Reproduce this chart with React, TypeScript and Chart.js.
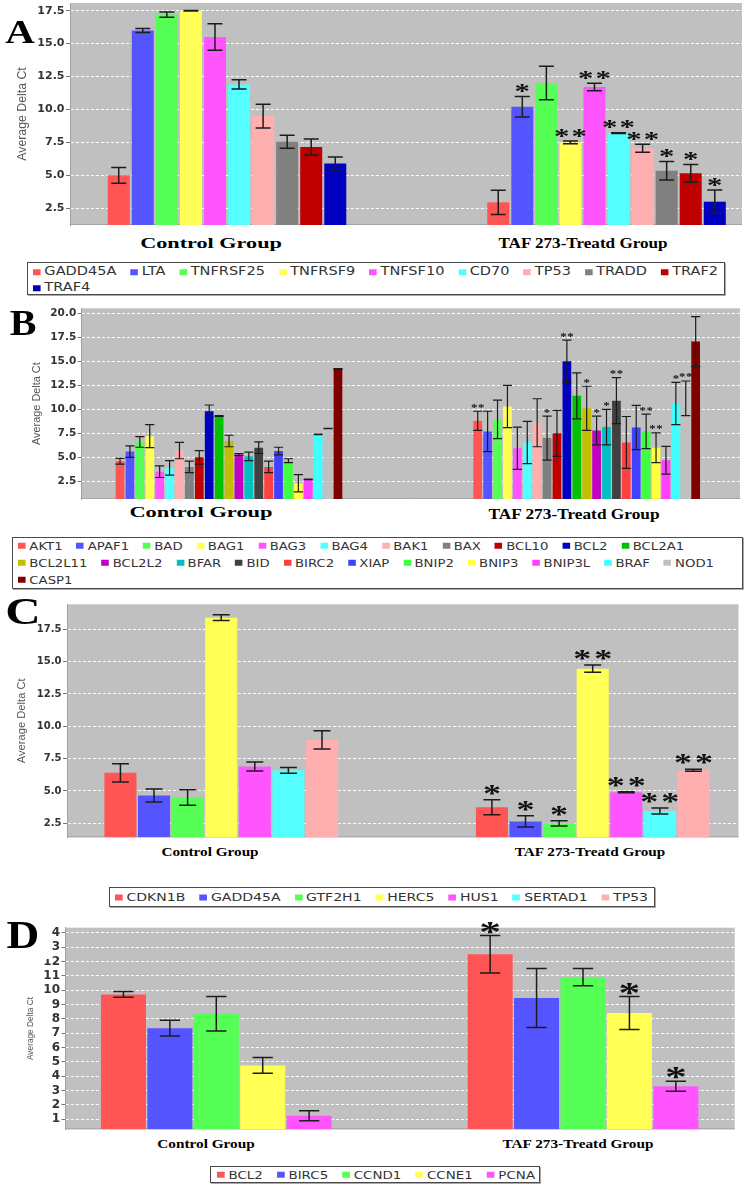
import React, { useEffect, useRef } from 'react';
import { Chart, registerables } from 'chart.js';

Chart.register(...registerables);

// ---------- shared ----------
const groups = ['Control Group', 'TAF 273-Treatd Group'];
const panelLetters = ['A', 'B', 'C', 'D'];
const palette = [
  '#ff5555', '#5555ff', '#55ff55', '#ffff55', '#ff55ff', '#55ffff', '#ffafaf', '#808080',
  '#c00000', '#0000c0', '#00c000', '#c0c000', '#c000c0', '#00c0c0', '#404040', '#ff4040',
  '#4040ff', '#40ff40', '#ffff40', '#ff40ff', '#40ffff', '#c0c0c0', '#800000',
];
const axisTitle = 'Average Delta Ct';

// ---------- panel A ----------
const aGenes = ['GADD45A', 'LTA', 'TNFRSF25', 'TNFRSF9', 'TNFSF10', 'CD70', 'TP53', 'TRADD', 'TRAF2', 'TRAF4'];
const aControl = [5.0, 16.0, 17.2, 17.5, 15.5, 11.9, 9.5, 7.55, 7.15, 5.9];
const aControlErr = [0.6, 0.15, 0.2, 0.02, 1.0, 0.35, 0.9, 0.5, 0.6, 0.5];
const aTreated = [2.95, 10.2, 12.0, 7.5, 11.7, 8.2, 7.05, 5.35, 5.15, 3.0];
const aTreatedErr = [0.92, 0.78, 1.27, 0.1, 0.28, 0.03, 0.3, 0.7, 0.67, 0.88];
const aSig = [0, 1, 0, 2, 2, 2, 2, 1, 1, 1];
const aTicks = [2.5, 5, 7.5, 10, 12.5, 15, 17.5];

// ---------- panel B ----------
const bGenes = ['AKT1', 'APAF1', 'BAD', 'BAG1', 'BAG3', 'BAG4', 'BAK1', 'BAX', 'BCL10', 'BCL2', 'BCL2A1',
  'BCL2L11', 'BCL2L2', 'BFAR', 'BID', 'BIRC2', 'XIAP', 'BNIP2', 'BNIP3', 'BNIP3L', 'BRAF', 'NOD1', 'CASP1'];
const bControl = [4.6, 5.6, 6.6, 7.2, 3.5, 3.9, 5.7, 4.0, 5.0, 9.8, 9.3, 6.7, 5.3, 5.1, 6.0, 4.0, 5.65, 4.65, 2.3, 2.7, 7.4, 8.0, 14.2];
const bControlErr = [0.3, 0.6, 0.55, 1.2, 0.6, 0.75, 0.85, 0.6, 0.7, 0.65, 0.05, 0.6, 0.1, 0.45, 0.6, 0.6, 0.4, 0.2, 0.9, 0.03, 0.03, 0.02, 0.05];
const bTreated = [8.8, 7.7, 8.95, 10.3, 5.95, 6.55, 8.6, 7.0, 7.5, 15.0, 11.4, 10.1, 7.8, 8.15, 10.9, 6.55, 8.1, 7.7, 6.0, 4.7, 10.6, 11.15, 17.05];
const bTreatedErr = [1.0, 2.1, 2.0, 2.2, 2.2, 2.2, 2.5, 2.3, 2.4, 2.2, 2.4, 2.3, 1.5, 1.85, 2.4, 2.7, 2.3, 1.8, 1.55, 1.45, 2.2, 1.8, 2.6];
const bSig = [2, 0, 0, 0, 0, 0, 0, 1, 0, 2, 0, 1, 1, 1, 2, 0, 0, 2, 2, 0, 1, 2, 0];
const bTicks = [2.5, 5, 7.5, 10, 12.5, 15, 17.5, 20];

// ---------- panel C ----------
const cGenes = ['CDKN1B', 'GADD45A', 'GTF2H1', 'HERC5', 'HUS1', 'SERTAD1', 'TP53'];
const cControl = [6.4, 4.65, 4.5, 18.4, 6.9, 6.6, 8.95];
const cControlErr = [0.7, 0.5, 0.6, 0.22, 0.35, 0.22, 0.7];
const cTreated = [3.75, 2.65, 2.5, 14.45, 4.9, 3.45, 6.6];
const cTreatedErr = [0.58, 0.43, 0.2, 0.28, 0.04, 0.23, 0.08];
const cSig = [1, 1, 1, 2, 2, 2, 2];
const cTicks = [2.5, 5, 7.5, 10, 12.5, 15, 17.5];

// ---------- panel D ----------
const dGenes = ['BCL2', 'BIRC5', 'CCND1', 'CCNE1', 'PCNA'];
const dControl = [9.7, 7.35, 8.35, 4.75, 1.25];
const dControlErr = [0.2, 0.55, 1.2, 0.55, 0.35];
const dTreated = [12.5, 9.45, 10.9, 8.4, 3.3];
const dTreatedErr = [1.3, 2.05, 0.6, 1.15, 0.35];
const dSig = [1, 0, 0, 1, 1];
const dTicks = [1, 2, 3, 4, 5, 6, 7, 8, 9, 10, 11, 12, 13, 14];

// ---------- layout ----------
const panels: any[] = [
  {
    genes: aGenes, values: [aControl, aTreated], errs: [aControlErr, aTreatedErr], sig: aSig, ticks: aTicks, decimals: 1,
    top: 0, height: 232, plot: { l: 70, t: 3, r: 742, b: 225 },
    yMin: 1.23, yMax: 18.08, xMin: -0.4137, xMax: 1.357, catPct: 0.634, barPct: 0.915,
    tickSize: 11, titleSize: 12.3, titlePad: 15, capFrac: 0.68, errWidth: 1.5,
    star: { size: 22, sx: 1.4, spacing: 17.5, offset: 8 },
    labels: [{ cx: 211, cy: 244, w: 142, size: 14 }, { cx: 583, cy: 244, w: 170, size: 14 }],
    legend: { box: { l: 27, t: 262, r: 725, b: 295 }, startX: 33, endX: 718, rowY: [272, 288], rows: [9, 1], size: 11.5 },
    letter: { cx: 20, cy: 32, w: 30, size: 34 },
  },
  {
    genes: bGenes, values: [bControl, bTreated], errs: [bControlErr, bTreatedErr], sig: bSig, ticks: bTicks, decimals: 1,
    top: 300, height: 205, plot: { l: 81.7, t: 308.3, r: 740, b: 499 },
    yMin: 0.66, yMax: 20.52, xMin: -0.4118, xMax: 1.4286, catPct: 0.637, barPct: 0.88,
    tickSize: 10.5, titleSize: 10.9, titlePad: 30.5, capFrac: 1.05, errWidth: 1.2,
    star: { size: 10, sx: 1.28, spacing: 7, offset: 5.5 },
    labels: [{ cx: 200.8, cy: 513, w: 143.5, size: 14 }, { cx: 573.6, cy: 515, w: 172, size: 14 }],
    legend: { box: { l: 12, t: 537, r: 743, b: 589 }, startX: 18, endX: 684, rowY: [546, 563, 580], rows: [11, 11, 1], size: 10.5 },
    letter: { cx: 22.7, cy: 323.3, w: 26.3, size: 35 },
  },
  {
    genes: cGenes, values: [cControl, cTreated], errs: [cControlErr, cTreatedErr], sig: cSig, ticks: cTicks, decimals: 1,
    top: 595, height: 250, plot: { l: 67, t: 604.3, r: 738.5, b: 837.3 },
    yMin: 1.42, yMax: 19.43, xMin: -0.4151, xMax: 1.3925, catPct: 0.633, barPct: 0.955,
    tickSize: 10, titleSize: 11.2, titlePad: 14.8, capFrac: 0.53, errWidth: 1.5,
    star: { size: 24.5, sx: 1.47, spacing: 21, offset: 10 },
    labels: [{ cx: 210, cy: 852, w: 97.6, size: 12 }, { cx: 589.6, cy: 851.5, w: 151.5, size: 12 }],
    legend: { box: { l: 109, t: 887, r: 655, b: 907 }, startX: 115, endX: 648, rowY: [897], rows: [7], size: 11 },
    letter: { cx: 22.7, cy: 610.8, w: 31, size: 38 },
  },
  {
    genes: dGenes, values: [dControl, dTreated], errs: [dControlErr, dTreatedErr], sig: dSig, ticks: dTicks, decimals: 0,
    top: 918, height: 218, plot: { l: 65.5, t: 927.7, r: 734.7, b: 1129.3 },
    yMin: 0.3, yMax: 14.35, xMin: -0.4112, xMax: 1.4137, catPct: 0.633, barPct: 0.97,
    tickSize: 12, titleSize: 8.3, titlePad: 26, capFrac: 0.45, errWidth: 1.5,
    star: { size: 29, sx: 1.5, spacing: 20, offset: 8 },
    labels: [{ cx: 206.3, cy: 1145, w: 97, size: 11.5 }, { cx: 578.4, cy: 1145, w: 151, size: 11.5 }],
    legend: { box: { l: 210, t: 1166, r: 540, b: 1183 }, startX: 217, endX: 535, rowY: [1174.5], rows: [5], size: 10.5 },
    letter: { cx: 22.7, cy: 934, w: 31, size: 41 },
  },
];

// ---------- text helpers ----------
const mctx: any = document.createElement('canvas').getContext('2d');
function measure(text: string, font: string, ink: boolean) {
  mctx.font = font;
  const m = mctx.measureText(text);
  if (ink) {
    const w = m.actualBoundingBoxLeft + m.actualBoundingBoxRight;
    if (w > 0) return w;
  }
  return m.width;
}

function StretchText({ text, cx, cy, width, size, family, weight, color }: any) {
  const font = `${weight} ${size}px ${family}`;
  const s = width / measure(text, font, true);
  return (
    <div
      style={{
        position: 'absolute', left: cx, top: cy, font, lineHeight: 1, whiteSpace: 'nowrap', color,
        transform: `translate(-50%, -50%) scaleX(${s})`,
      }}
    >
      {text}
    </div>
  );
}

function Legend({ names, lg }: any) {
  const font = `${lg.size}px "DejaVu Sans"`;
  const SQ = 6, SQG = 3, GAP = 11;
  const first = names.slice(0, lg.rows[0]);
  const natural = first.reduce((a: number, n: string) => a + measure(n, font, false), 0)
    + first.length * (SQ + SQG) + (first.length - 1) * GAP;
  const k = (lg.endX - lg.startX) / natural;
  let idx = 0;
  const rows = lg.rows.map((count: number, r: number) => {
    const base = idx;
    const items = names.slice(idx, idx + count);
    idx += count;
    return (
      <div
        key={r}
        style={{
          position: 'absolute', left: lg.startX, top: lg.rowY[r], font, lineHeight: 1, color: '#333',
          display: 'flex', alignItems: 'center', whiteSpace: 'nowrap',
          transform: `translateY(-50%) scaleX(${k})`, transformOrigin: 'left center',
        }}
      >
        {items.map((n: string, i: number) => (
          <span key={n} style={{ display: 'flex', alignItems: 'center', marginRight: GAP }}>
            <span style={{ display: 'inline-block', width: SQ, height: SQ, background: palette[base + i], marginRight: SQG }} />
            {n}
          </span>
        ))}
      </div>
    );
  });
  const b = lg.box;
  return (
    <>
      <div
        style={{
          position: 'absolute', left: b.l, top: b.t, width: b.r - b.l, height: b.b - b.t,
          border: '1px solid #4a4a4a', boxSizing: 'border-box', boxShadow: '1px 1px 0 #aaaaaa',
        }}
      />
      {rows}
    </>
  );
}

// ---------- chart ----------
function makeConfig(p: any) {
  const datasets = p.genes.map((g: string, i: number) => ({
    label: g,
    data: groups.map((_, j) => ({ x: j, y: p.values[j][i] })),
    backgroundColor: palette[i],
    borderWidth: 0,
    base: p.yMin,
    categoryPercentage: p.catPct,
    barPercentage: p.barPct,
  }));

  const bgPlugin = {
    id: 'plotBg',
    beforeDraw(chart: any) {
      const { ctx, chartArea: a } = chart;
      ctx.save();
      ctx.fillStyle = '#c0c0c0';
      ctx.fillRect(a.left, a.top, a.right - a.left, a.bottom - a.top);
      ctx.strokeStyle = '#a4a4a4';
      ctx.lineWidth = 1;
      ctx.beginPath();
      ctx.moveTo(a.left, a.bottom - 0.5);
      ctx.lineTo(a.right, a.bottom - 0.5);
      ctx.stroke();
      ctx.restore();
    },
  };

  const errPlugin = {
    id: 'errStars',
    afterDatasetsDraw(chart: any) {
      const { ctx, chartArea: area } = chart;
      const ys = chart.scales.y;
      ctx.save();
      chart.data.datasets.forEach((ds: any, i: number) => {
        const meta = chart.getDatasetMeta(i);
        meta.data.forEach((el: any, j: number) => {
          const v = ds.data[j].y;
          const e = p.errs[j][i];
          const cx = el.x;
          const hw = (el.width * p.capFrac) / 2;
          const top = ys.getPixelForValue(v + e);
          const rawBot = ys.getPixelForValue(v - e);
          const bot = Math.min(rawBot, area.bottom);
          ctx.strokeStyle = '#1c1c1c';
          ctx.lineWidth = p.errWidth;
          ctx.beginPath();
          ctx.moveTo(cx, top);
          ctx.lineTo(cx, bot);
          ctx.moveTo(cx - hw, top);
          ctx.lineTo(cx + hw, top);
          if (rawBot <= area.bottom) {
            ctx.moveTo(cx - hw, bot);
            ctx.lineTo(cx + hw, bot);
          }
          ctx.stroke();
          const n = j === 1 ? p.sig[i] : 0;
          if (n > 0) {
            ctx.font = `bold ${p.star.size}px "Liberation Serif"`;
            ctx.fillStyle = '#111';
            ctx.textAlign = 'center';
            ctx.textBaseline = 'alphabetic';
            const m = ctx.measureText('*');
            const cy = top - p.star.offset;
            const baseline = cy + (m.actualBoundingBoxAscent - m.actualBoundingBoxDescent) / 2;
            for (let k = 0; k < n; k++) {
              const sxp = cx + (k - (n - 1) / 2) * p.star.spacing;
              ctx.save();
              ctx.translate(sxp, baseline);
              ctx.scale(p.star.sx, 1);
              ctx.fillText('*', 0, 0);
              ctx.restore();
            }
          }
        });
      });
      ctx.restore();
    },
  };

  return {
    type: 'bar',
    data: { datasets },
    options: {
      responsive: false,
      maintainAspectRatio: false,
      animation: false,
      events: [],
      layout: {
        padding: {
          left: 0,
          right: 746 - p.plot.r,
          top: p.plot.t - p.top,
          bottom: p.top + p.height - p.plot.b,
        },
      },
      plugins: { legend: { display: false }, tooltip: { enabled: false }, title: { display: false } },
      scales: {
        x: {
          type: 'linear',
          display: false,
          offset: false,
          bounds: 'data',
          min: p.xMin,
          max: p.xMax,
          afterBuildTicks: (s: any) => { s.ticks = groups.map((_, j) => ({ value: j })); },
        },
        y: {
          type: 'linear',
          bounds: 'data',
          min: p.yMin,
          max: p.yMax,
          afterBuildTicks: (s: any) => { s.ticks = p.ticks.map((v: number) => ({ value: v })); },
          afterFit: (s: any) => { s.width = p.plot.l; s.paddingTop = 0; s.paddingBottom = 0; },
          ticks: {
            autoSkip: false,
            padding: 1.5,
            color: '#333',
            font: { family: 'DejaVu Sans', size: p.tickSize, weight: 'bold' },
            callback: (v: any) => Number(v).toFixed(p.decimals),
          },
          grid: {
            color: 'rgba(255,255,255,0.95)',
            lineWidth: 1,
            drawTicks: true,
            tickLength: 4,
            tickColor: '#777',
            tickWidth: 1,
            tickBorderDash: [],
          },
          border: { display: true, color: '#a0a0a0', width: 1, dash: [3, 2] },
          title: {
            display: true,
            text: axisTitle,
            color: '#555',
            font: { family: 'Liberation Sans', size: p.titleSize, weight: 'normal' },
            padding: { top: p.titlePad, bottom: 0 },
          },
        },
      },
    },
    plugins: [bgPlugin, errPlugin],
  };
}

function BarPanel({ p }: any) {
  const ref = useRef<HTMLCanvasElement | null>(null);
  useEffect(() => {
    const chart = new Chart(ref.current as any, makeConfig(p) as any);
    return () => chart.destroy();
  }, [p]);
  return (
    <canvas
      ref={ref}
      width={746}
      height={p.height}
      style={{ position: 'absolute', left: 0, top: p.top, width: 746, height: p.height, display: 'block' }}
    />
  );
}

export default function App() {
  return (
    <div style={{ position: 'absolute', left: 0, top: 0, width: 746, height: 1188, background: '#fff', overflow: 'hidden' }}>
      {panels.map((p, i) => <BarPanel key={`c${i}`} p={p} />)}
      {panels.map((p, i) =>
        p.labels.map((l: any, j: number) => (
          <StretchText
            key={`g${i}${j}`}
            text={groups[j]}
            cx={l.cx}
            cy={l.cy}
            width={l.w}
            size={l.size}
            family={'"Liberation Serif", serif'}
            weight="bold"
            color="#000"
          />
        ))
      )}
      {panels.map((p, i) => <Legend key={`l${i}`} names={p.genes} lg={p.legend} />)}
      <div style={{ position: 'absolute', left: 0, top: 918, width: 51, height: 41, background: '#fff' }} />
      {panels.map((p, i) => (
        <StretchText
          key={`t${i}`}
          text={panelLetters[i]}
          cx={p.letter.cx}
          cy={p.letter.cy}
          width={p.letter.w}
          size={p.letter.size}
          family={'"Liberation Serif", serif'}
          weight="bold"
          color="#000"
        />
      ))}
    </div>
  );
}
